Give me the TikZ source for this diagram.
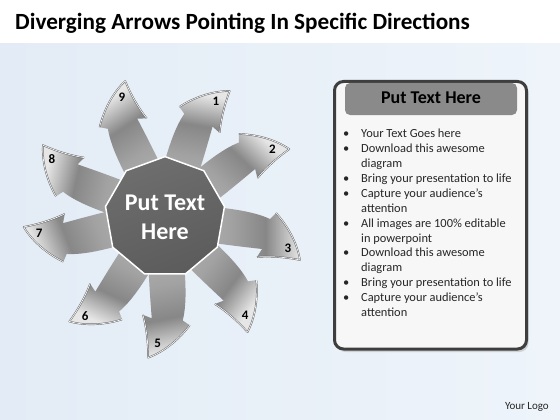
\documentclass[tikz,border=0pt]{standalone}
\usepackage{fontspec}
\setmainfont{Carlito}
\usetikzlibrary{shapes.geometric}
\definecolor{bgL}{HTML}{E3ECF6}
\definecolor{bgR}{HTML}{EEF4FA}
\definecolor{ashaft}{HTML}{B4B4B4}
\definecolor{ashaft2}{HTML}{A2A2A2}
\definecolor{adark}{HTML}{878787}
\definecolor{atip}{HTML}{E6E6E6}
\definecolor{hubA}{HTML}{6E6E6E}
\definecolor{hubB}{HTML}{5C5C5C}
\definecolor{panelline}{HTML}{3E3E3E}
\definecolor{panelfill}{HTML}{F7F7F7}
\definecolor{hdrdark}{HTML}{8A8A8A}
\definecolor{hdrlight}{HTML}{DCDCDC}
\pgfdeclarehorizontalshading{arrsh}{100bp}{color(0bp)=(ashaft); color(25bp)=(ashaft); color(45bp)=(ashaft2); color(60bp)=(adark); color(75bp)=(atip); color(100bp)=(atip)}
\tikzset{
  rimdark/.style={draw=gray!75!black, line width=1.6pt, line join=round},
  rimlight/.style={draw=white!92!gray, line width=0.7pt, line join=round},
  numlbl/.style={font=\bfseries\fontsize{13}{15}\selectfont, text=black, inner sep=0pt},
  hub/.style={regular polygon, regular polygon sides=9, minimum size=116pt, inner sep=0pt,
    top color=hubA, bottom color=hubB, shading angle=20, draw=white, line width=1.5pt,
    text=white, align=center, font=\bfseries\fontsize{24}{29}\selectfont},
}
\begin{document}
\begin{tikzpicture}[x=1pt,y=-1pt]
\useasboundingbox (0,0) rectangle (560,420);
\fill[white] (0,0) rectangle (560,420);
\shade[left color=bgL, middle color=white, right color=bgR] (0,44) rectangle (560,420);
% title
\node[anchor=base west, inner sep=0pt, font=\bfseries\fontsize{23.2}{27}\selectfont] (title) at (15,30) {Diverging Arrows Pointing In Specific Directions};
% arrows
\foreach \r/\n in {80.5/1, 46.3/2, 0/3, -36.7/4, -79.2/5, -114.8/6, -158.3/7, 167.2/8, 124/9}{
  \begin{scope}[shift={(165,217)}, rotate=\r]
    \shade[shading=arrsh, shading angle=\r]
      (20,-12) .. controls (60,-10) and (88,-6) .. (105,2) -- (111,-4)
      .. controls (122,8) and (132,25) .. (135,43)
      .. controls (120,40) and (105,39) .. (92,40) -- (97,32)
      .. controls (80,30) and (50,27) .. (20,21) -- cycle;
    \draw[rimdark] (111,-4) .. controls (122,8) and (132,25) .. (135,43)
      .. controls (120,40) and (105,39) .. (92,40);
    \draw[rimlight] (111,-4) .. controls (122,8) and (132,25) .. (135,43)
      .. controls (120,40) and (105,39) .. (92,40);
    \node[numlbl] (n\n) at (123,31) {\n};
  \end{scope}
}
% hub
\node[hub] (hubnode) at (165,217) {Put Text\\Here};
% panel
\fill[black!30, opacity=0.5, rounded corners=9pt] (336.5,84) rectangle (528.5,352);
\draw[draw=panelline, fill=panelfill, line width=3pt, rounded corners=9pt] (334.5,81.5) rectangle (526.5,349);
\shade[left color=hdrdark, middle color=hdrlight, right color=hdrdark, rounded corners=5pt] (345,83) rectangle (517,115);
\node[anchor=base, inner sep=0pt, font=\bfseries\fontsize{18}{21}\selectfont] (hdr) at (431,103.5) {Put Text Here};
\node[anchor=north west, inner sep=0pt, text=black!85, font=\fontsize{12.4}{14.9}\selectfont] (list) at (343,127.1) {%
\begin{tabular}{@{}p{18pt}@{}l@{}}
\textbullet & Your Text Goes here\\
\textbullet & Download this awesome\\
 & diagram\\
\textbullet & Bring your presentation to life\\
\textbullet & Capture your audience’s\\
 & attention\\
\textbullet & All images are 100\% editable\\
 & in powerpoint\\
\textbullet & Download this awesome\\
 & diagram\\
\textbullet & Bring your presentation to life\\
\textbullet & Capture your audience’s\\
 & attention
\end{tabular}};
\node[anchor=base east, inner sep=0pt, text=black!85, font=\fontsize{11}{13}\selectfont] (logo) at (549,409.5) {Your Logo};
\end{tikzpicture}
\end{document}
